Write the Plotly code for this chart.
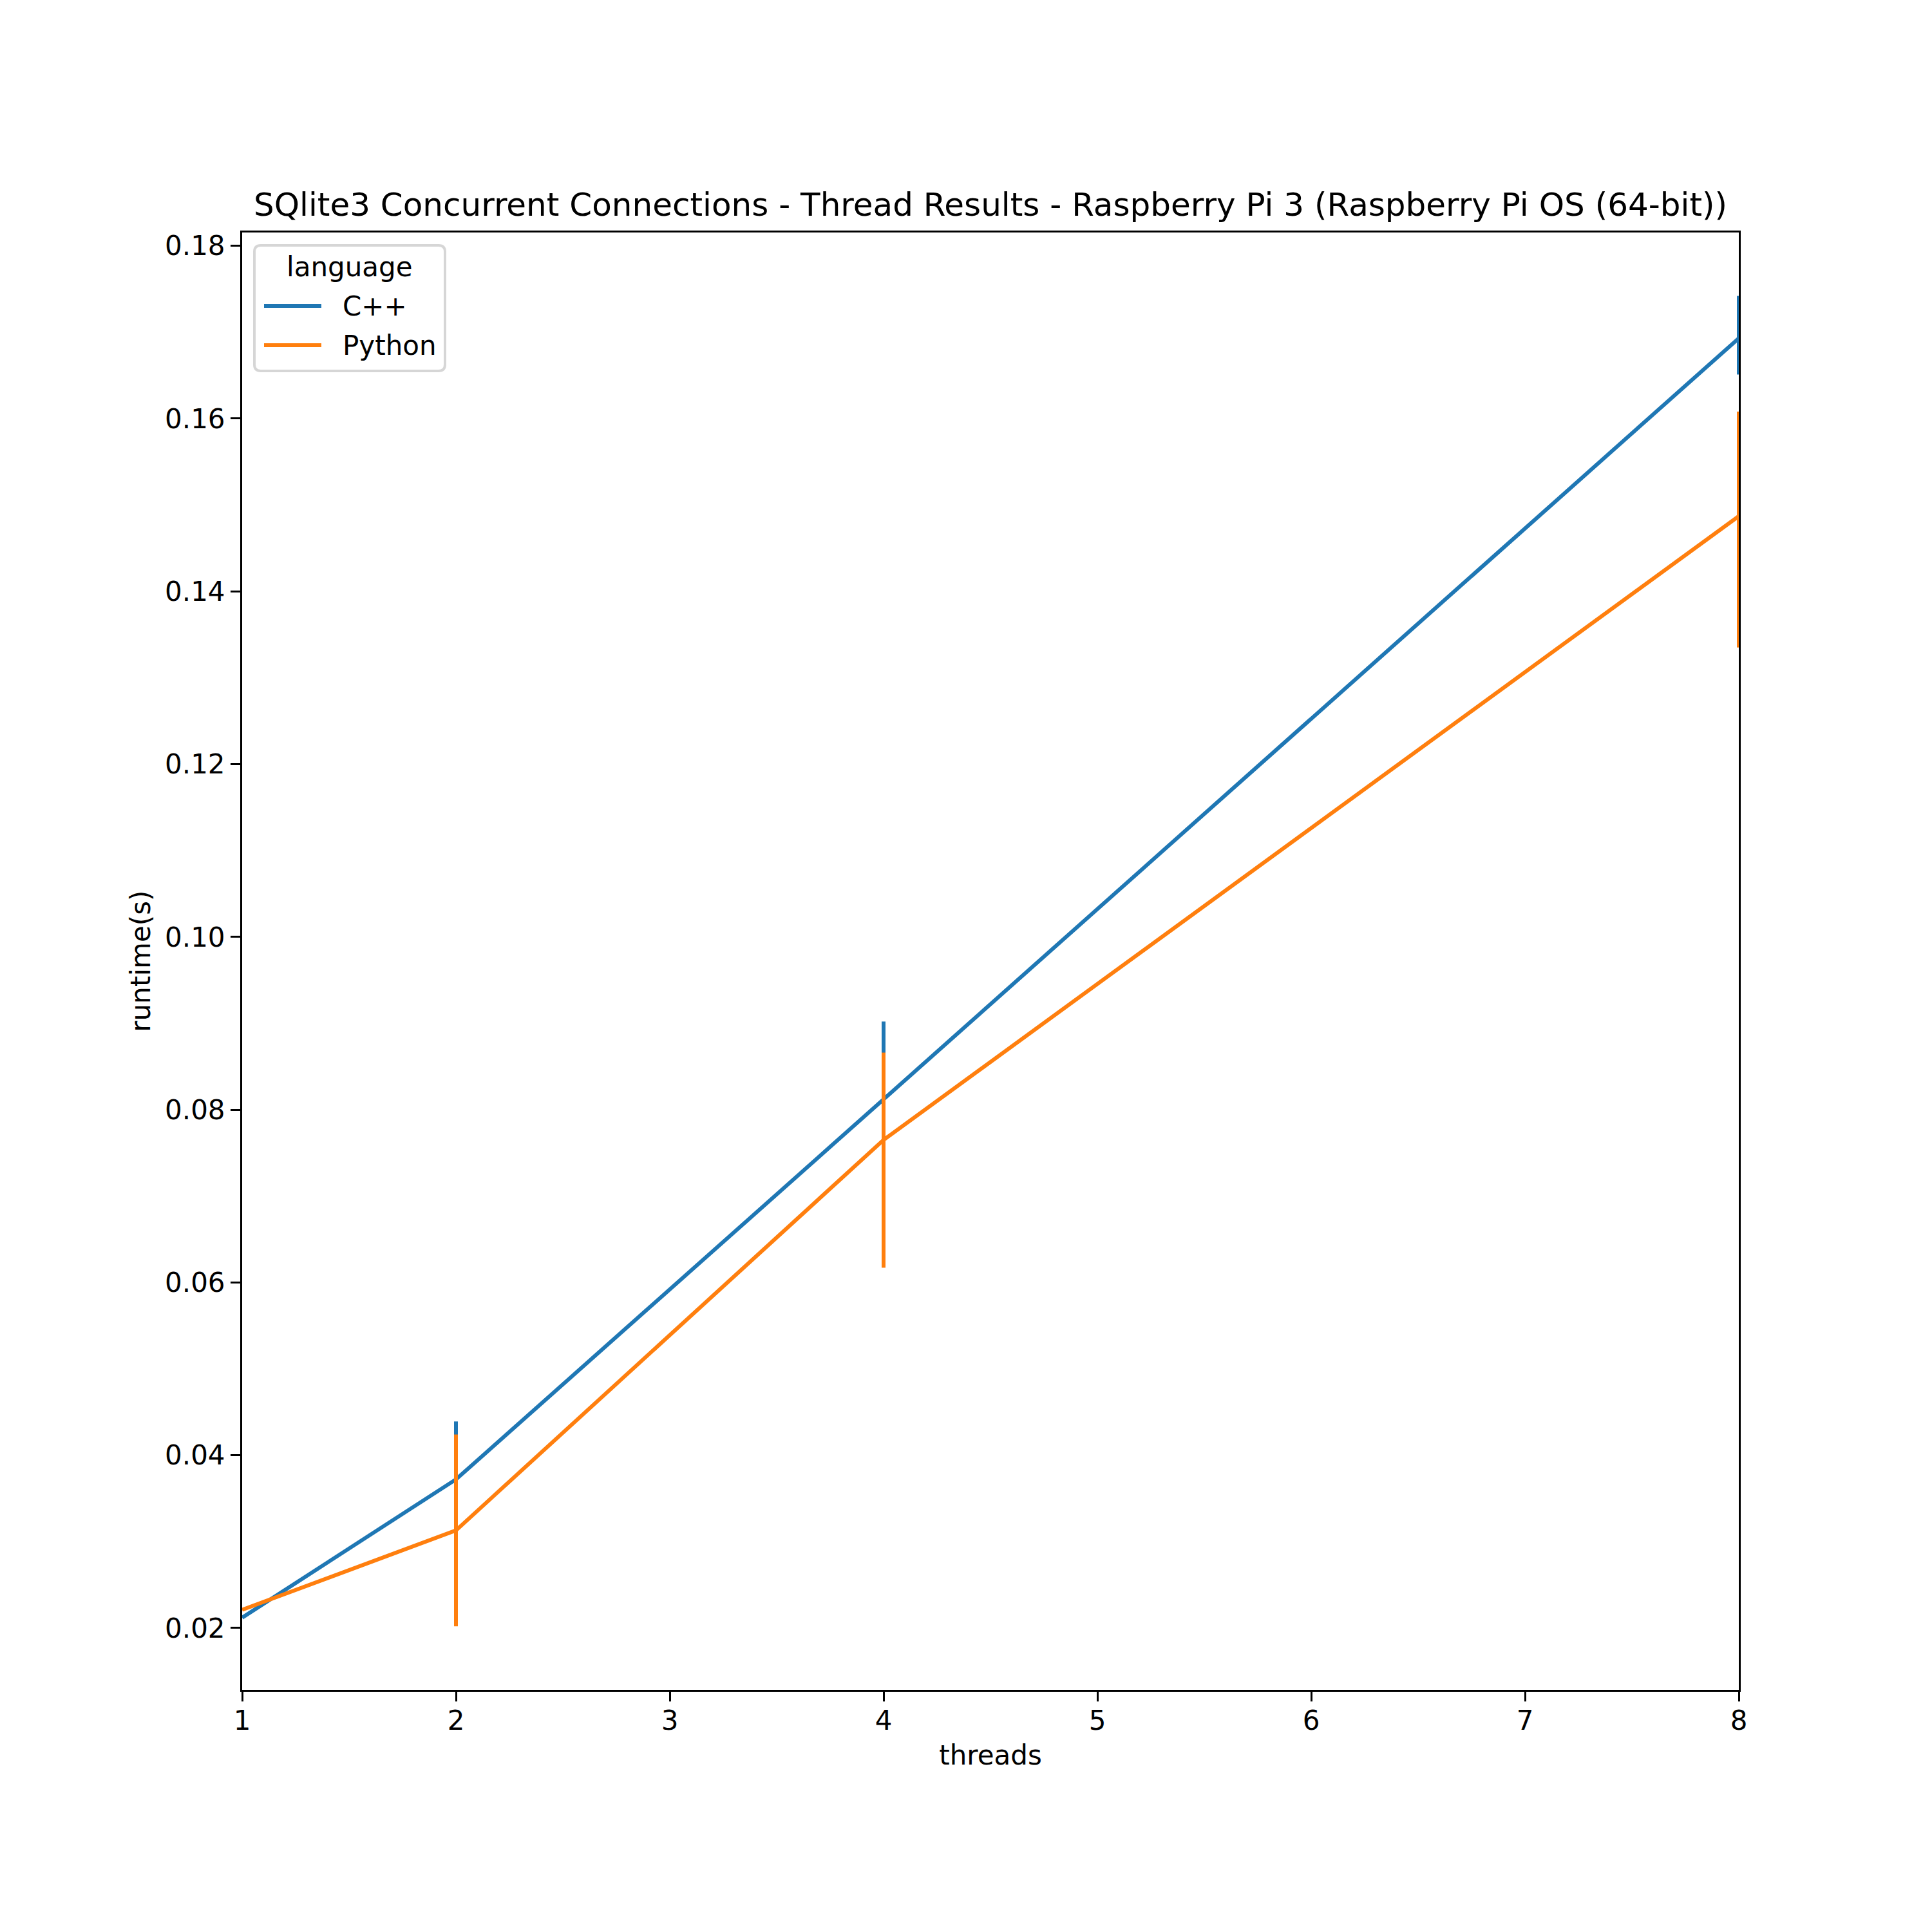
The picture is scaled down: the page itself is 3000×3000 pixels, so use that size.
import plotly.graph_objects as go
import numpy as np

threads = [1, 2, 4, 8]

cpp_runtime = [0.0212, 0.0372, 0.0812, 0.1693]
cpp_upper = [0.0212, 0.0439, 0.0902, 0.1742]
cpp_lower = [0.0212, 0.0305, 0.0668, 0.1651]

py_runtime = [0.0221, 0.0313, 0.0765, 0.1487]
py_upper = [0.0221, 0.0424, 0.0866, 0.1608]
py_lower = [0.0221, 0.0202, 0.0617, 0.1335]

y_ticks = [0.02, 0.04, 0.06, 0.08, 0.10, 0.12, 0.14, 0.16, 0.18]
languages = ["C++", "Python"]
colors = ["#1f77b4", "#ff7f0e"]

font_family = "DejaVu Sans"
line_w = 6

# plot box in page pixels (screenshot shifts the page by ~8px)
L, R, T, B = 368, 308, 353, 384
PW, PH = 3000 - L - R, 3000 - T - B


def px(x):
    return (x - 8 - L) / PW


def py(y):
    return (3000 - B - (y - 8)) / PH


def series(name, y, upper, lower, color):
    y = np.array(y)
    return go.Scatter(
        x=threads, y=y, name=name, mode="lines", showlegend=False,
        line=dict(color=color, width=line_w),
        error_y=dict(
            type="data", symmetric=False,
            array=np.array(upper) - y,
            arrayminus=y - np.array(lower),
            color=color, thickness=line_w, width=0,
        ),
    )


fig = go.Figure()
fig.add_trace(series(languages[0], cpp_runtime, cpp_upper, cpp_lower, colors[0]))
fig.add_trace(series(languages[1], py_runtime, py_upper, py_lower, colors[1]))

# legend drawn by hand, matplotlib style
x0, x1, y0, y1, r = px(395), px(691), py(381), py(576), 10 / PW
ry = 10 / PH
box = (f"M {x0 + r},{y0} L {x1 - r},{y0} Q {x1},{y0} {x1},{y0 - ry} "
       f"L {x1},{y1 + ry} Q {x1},{y1} {x1 - r},{y1} "
       f"L {x0 + r},{y1} Q {x0},{y1} {x0},{y1 + ry} "
       f"L {x0},{y0 - ry} Q {x0},{y0} {x0 + r},{y0} Z")
fig.add_shape(type="path", path=box, xref="paper", yref="paper",
              fillcolor="rgba(255,255,255,0.8)",
              line=dict(color="#d6d6d6", width=4), layer="above")

annotations = [dict(text="language", x=px(543), y=py(414), xref="paper", yref="paper",
                    xanchor="center", yanchor="middle", showarrow=False,
                    font=dict(size=42, color="black", family=font_family))]
for i, (lang, col) in enumerate(zip(languages, colors)):
    yy = py(475 + 61 * i)
    fig.add_shape(type="line", xref="paper", yref="paper",
                  x0=px(410), x1=px(499), y0=yy, y1=yy,
                  line=dict(color=col, width=line_w), layer="above")
    annotations.append(dict(text=lang, x=px(530), y=yy, xref="paper", yref="paper",
                            xanchor="left", yanchor="middle", showarrow=False,
                            font=dict(size=42, color="black", family=font_family)))

axis_common = dict(
    showgrid=False, zeroline=False,
    showline=True, linecolor="black", linewidth=3, mirror=True,
    ticks="outside", ticklen=15, tickwidth=3, tickcolor="black",
    tickfont=dict(size=42, color="black", family=font_family),
    title_font=dict(size=42, color="black", family=font_family),
    layer="above traces",
)

fig.update_layout(
    width=3000, height=3000,
    margin=dict(l=L, r=R, t=T, b=B, autoexpand=False),
    paper_bgcolor="white", plot_bgcolor="white",
    font=dict(family=font_family, color="black"),
    title=dict(
        text="SQlite3 Concurrent Connections - Thread Results - Raspberry Pi 3 (Raspberry Pi OS (64-bit))",
        x=0.5, xref="paper", xanchor="center",
        y=1, yref="paper", yanchor="bottom",
        pad=dict(b=26),
        font=dict(size=50, color="black", family=font_family),
    ),
    xaxis=dict(
        axis_common, range=[1, 8], tickvals=[1, 2, 3, 4, 5, 6, 7, 8],
        ticklabelstandoff=-6,
        title=dict(text="threads", standoff=16),
    ),
    yaxis=dict(
        axis_common, range=[0.01284, 0.18154], tickvals=y_ticks,
        tickformat=".2f",
        title=dict(text="runtime(s)", standoff=10),
    ),
    annotations=annotations,
    showlegend=False,
)

fig.write_html("out.html")
